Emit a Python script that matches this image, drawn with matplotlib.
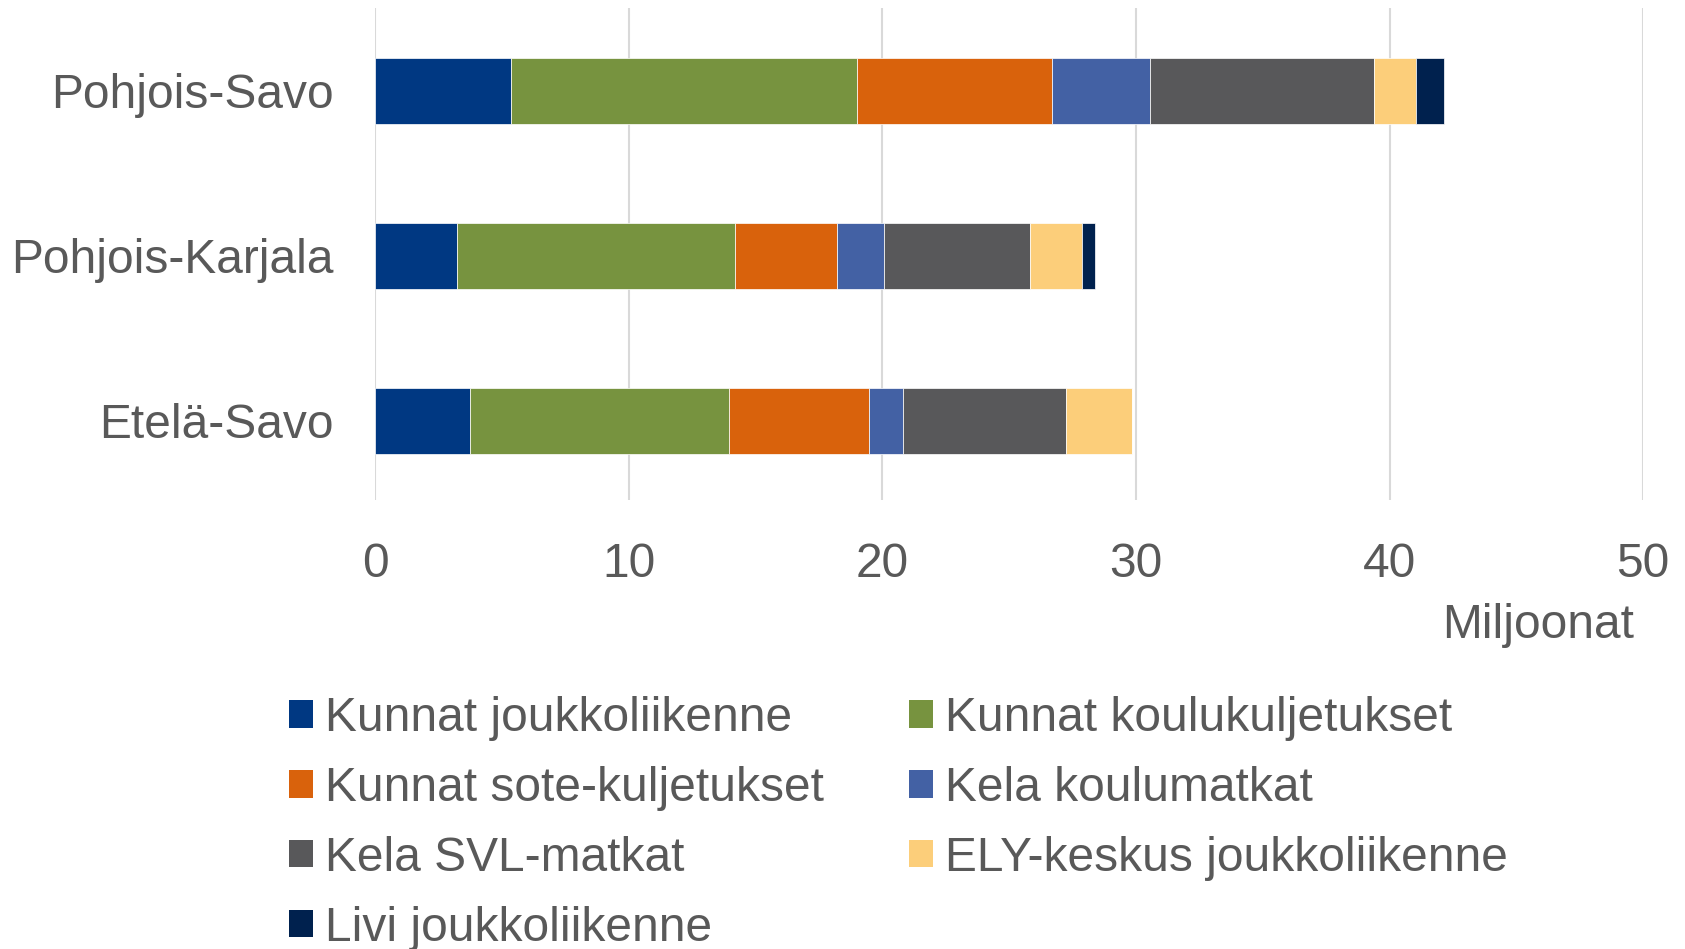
import numpy as np
import matplotlib
matplotlib.use("Agg")
import matplotlib.pyplot as plt
from matplotlib.patches import Patch

plt.rcParams['font.family'] = ['Liberation Sans', 'DejaVu Sans']

# Maakunnat (alhaalta ylös piirtojärjestyksessä)
maakunnat = ["Etelä-Savo", "Pohjois-Karjala", "Pohjois-Savo"]

# Kustannukset, miljoonaa euroa
kunnat_joukkoliikenne = [3.73, 3.22, 5.34]
kunnat_koulukuljetukset = [10.21, 10.97, 13.66]
kunnat_sote = [5.51, 4.03, 7.70]
kela_koulumatkat = [1.35, 1.86, 3.85]
kela_svl = [6.42, 5.72, 8.85]
ely_joukkoliikenne = [2.61, 2.08, 1.65]
livi_joukkoliikenne = [0.0, 0.51, 1.10]

sarjat = ["Kunnat joukkoliikenne", "Kunnat koulukuljetukset",
          "Kunnat sote-kuljetukset", "Kela koulumatkat",
          "Kela SVL-matkat", "ELY-keskus joukkoliikenne",
          "Livi joukkoliikenne"]
arvot = [kunnat_joukkoliikenne, kunnat_koulukuljetukset, kunnat_sote,
         kela_koulumatkat, kela_svl, ely_joukkoliikenne, livi_joukkoliikenne]
varit = ["#003882", "#77933F", "#D9620C", "#4361A4",
         "#58585A", "#FCCE7A", "#00214E"]

xticks = [0, 10, 20, 30, 40, 50]

tekstivari = "#595959"
fs = 34.5

fig = plt.figure(figsize=(16.85, 9.49), dpi=100)
ax = fig.add_axes([0.2228, 1 - 500 / 949, 0.9751 - 0.2228, (500 - 8) / 949])

y = np.arange(len(maakunnat))
vasen = np.zeros(len(maakunnat))
for nimi, data, vari in zip(sarjat, arvot, varit):
    data = np.array(data)
    ax.barh(y, data, left=vasen, height=0.4, color=vari,
            edgecolor="white", linewidth=0.5, label=nimi, zorder=3)
    vasen += data

ax.set_xlim(0, 50)
ax.set_ylim(-0.48, 2.5)
ax.set_xticks(xticks)
ax.set_xticklabels([str(t) for t in xticks])
ax.set_yticks(y)
ax.set_yticklabels(maakunnat)
ax.grid(axis="x", color="#D9D9D9", linewidth=1.5, zorder=0)
for s in ax.spines.values():
    s.set_visible(False)
ax.tick_params(axis="both", length=0, labelsize=fs, colors=tekstivari)
ax.tick_params(axis="x", pad=30)
ax.tick_params(axis="y", pad=30)

fig.text(1634 / 1685, 1 - 626 / 949, "Miljoonat", ha="right", va="center",
         fontsize=fs, color=tekstivari)

# Legenda rivijärjestyksessä kahteen sarakkeeseen
kahvat = [Patch(facecolor=v, edgecolor="none") for v in varit]
jarjestys = [0, 2, 4, 6, 1, 3, 5]
leg = fig.legend([kahvat[i] for i in jarjestys], [sarjat[i] for i in jarjestys],
                 ncol=2, loc="upper left", bbox_to_anchor=(289 / 1685, 1 - 696 / 949),
                 frameon=False, fontsize=fs, handlelength=0.5, handleheight=0.5,
                 handletextpad=0.25, columnspacing=1.77, labelspacing=0.52,
                 borderpad=0, borderaxespad=0)
for t in leg.get_texts():
    t.set_color(tekstivari)

fig.savefig("out.png", dpi=100)
